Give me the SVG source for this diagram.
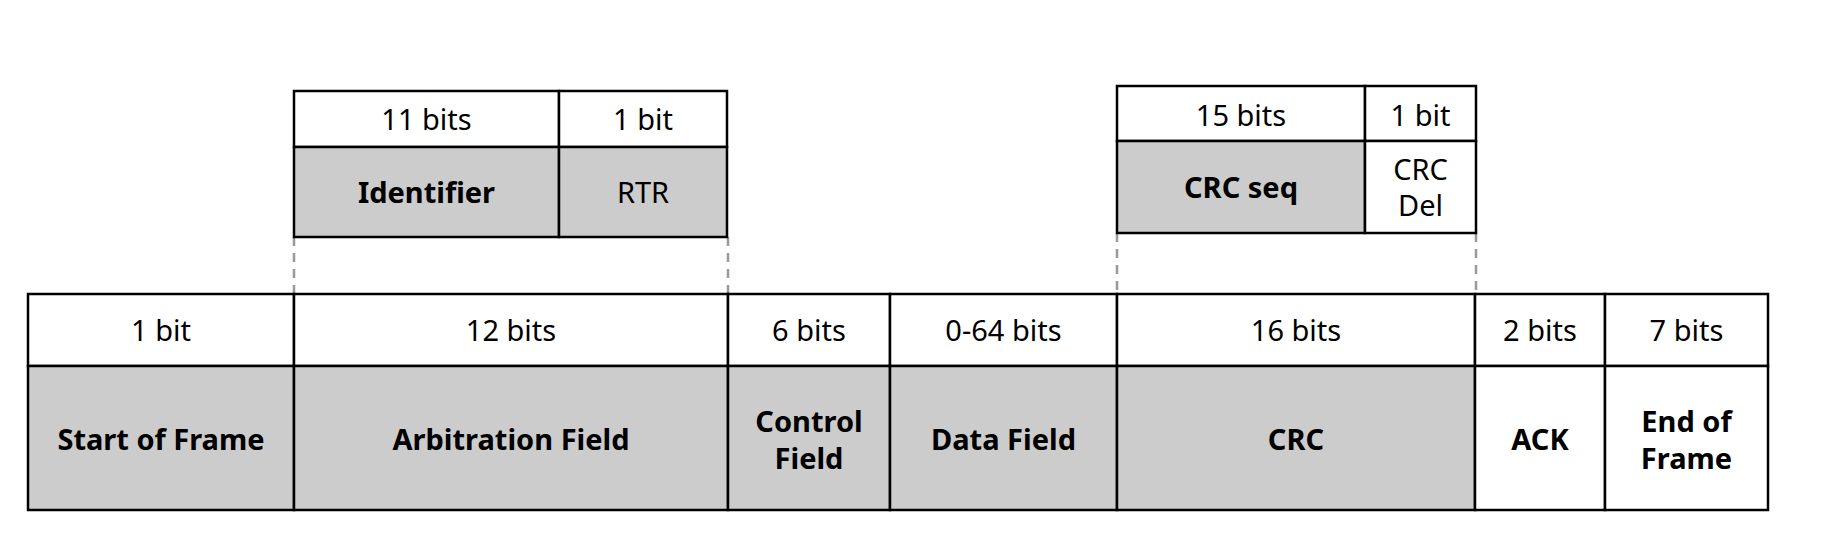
<svg xmlns="http://www.w3.org/2000/svg" width="1821" height="551" viewBox="0 0 1821 551">
<style>
.c{stroke:#000;stroke-width:2.5;fill:#fff}
.g{fill:#cccccc}
.t{font-family:"Noto Sans","Open Sans",sans-serif;font-size:29px;text-anchor:middle;fill:#000}
.b{font-weight:bold}
.d{stroke:#999;stroke-width:2.5;stroke-dasharray:9,7;fill:none}
</style>
<rect width="1821" height="551" fill="#fff"/>
<g id="connectors">
<line class="d" x1="294" y1="237" x2="294" y2="300"/>
<line class="d" x1="728" y1="237" x2="728" y2="308"/>
<line class="d" x1="1117" y1="233" x2="1117" y2="300"/>
<line class="d" x1="1476" y1="233" x2="1476" y2="300"/>
</g>
<g id="sof">
<rect class="c" x="28" y="294" width="266" height="72"/>
<rect class="c g" x="28" y="366" width="266" height="144"/>
<text class="t" x="161" y="341">1 bit</text>
<text class="t b" x="161" y="450">Start of Frame</text>
</g>
<g id="arbitration">
<rect class="c" x="294" y="294" width="434" height="72"/>
<rect class="c g" x="294" y="366" width="434" height="144"/>
<text class="t" x="511" y="341">12 bits</text>
<text class="t b" x="511" y="450">Arbitration Field</text>
</g>
<g id="control">
<rect class="c" x="728" y="294" width="162" height="72"/>
<rect class="c g" x="728" y="366" width="162" height="144"/>
<text class="t" x="809" y="341">6 bits</text>
<text class="t b" x="809" y="432">Control</text>
<text class="t b" x="809" y="469">Field</text>
</g>
<g id="data">
<rect class="c" x="890" y="294" width="227" height="72"/>
<rect class="c g" x="890" y="366" width="227" height="144"/>
<text class="t" x="1003.5" y="341">0-64 bits</text>
<text class="t b" x="1003.5" y="450">Data Field</text>
</g>
<g id="crc">
<rect class="c" x="1117" y="294" width="358" height="72"/>
<rect class="c g" x="1117" y="366" width="358" height="144"/>
<text class="t" x="1296" y="341">16 bits</text>
<text class="t b" x="1296" y="450">CRC</text>
</g>
<g id="ack">
<rect class="c" x="1475" y="294" width="130" height="72"/>
<rect class="c" x="1475" y="366" width="130" height="144"/>
<text class="t" x="1540" y="341">2 bits</text>
<text class="t b" x="1540" y="450">ACK</text>
</g>
<g id="eof">
<rect class="c" x="1605" y="294" width="163" height="72"/>
<rect class="c" x="1605" y="366" width="163" height="144"/>
<text class="t" x="1686.5" y="341">7 bits</text>
<text class="t b" x="1686.5" y="432">End of</text>
<text class="t b" x="1686.5" y="469">Frame</text>
</g>
<g id="identifier">
<rect class="c" x="294" y="91" width="265" height="56"/>
<rect class="c g" x="294" y="147" width="265" height="90"/>
<text class="t" x="426.5" y="130">11 bits</text>
<text class="t b" x="426.5" y="203">Identifier</text>
</g>
<g id="rtr">
<rect class="c" x="559" y="91" width="168" height="56"/>
<rect class="c g" x="559" y="147" width="168" height="90"/>
<text class="t" x="643" y="130">1 bit</text>
<text class="t" x="643" y="203">RTR</text>
</g>
<g id="crcseq">
<rect class="c" x="1117" y="86" width="248" height="55"/>
<rect class="c g" x="1117" y="141" width="248" height="92"/>
<text class="t" x="1241" y="126">15 bits</text>
<text class="t b" x="1241" y="198">CRC seq</text>
</g>
<g id="crcdel">
<rect class="c" x="1365" y="86" width="111" height="55"/>
<rect class="c" x="1365" y="141" width="111" height="92"/>
<text class="t" x="1420.5" y="126">1 bit</text>
<text class="t" x="1420.5" y="180">CRC</text>
<text class="t" x="1420.5" y="216">Del</text>
</g>
</svg>
